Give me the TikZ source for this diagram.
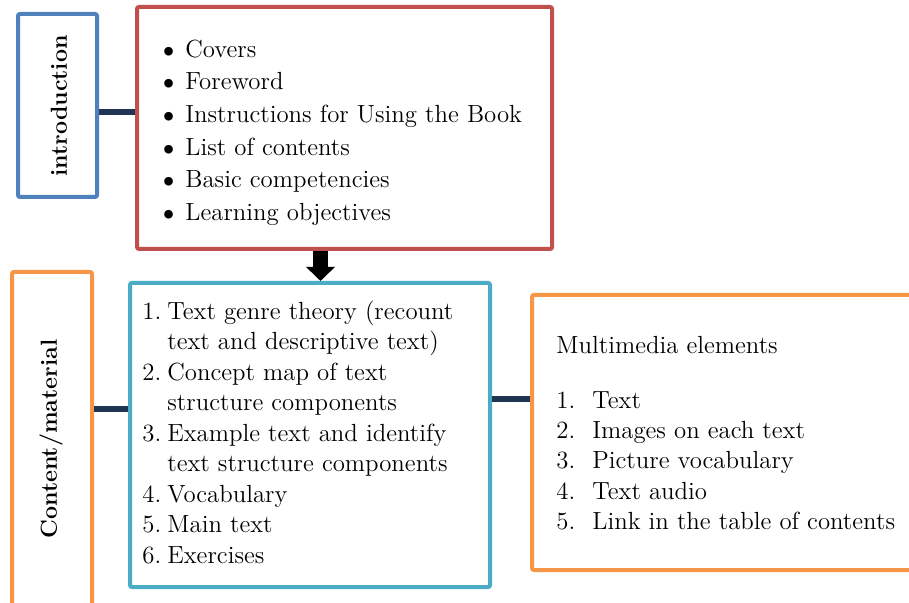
\documentclass[tikz,border=0pt]{standalone}
\usetikzlibrary{arrows.meta,calc}

\definecolor{introblue}{RGB}{79,129,189}
\definecolor{topicred}{RGB}{192,80,77}
\definecolor{partcyan}{RGB}{75,172,198}
\definecolor{mediaorange}{RGB}{247,150,70}
\definecolor{linknavy}{RGB}{31,53,82}

\begin{document}
\begin{tikzpicture}[x=0.5pt,y=-0.5pt,>=Stealth,
    frame/.style={draw,line width=2pt,rounded corners=1pt,inner sep=0pt},
    link/.style={draw=linknavy,line width=3pt},
    txt/.style={anchor=base west,inner sep=0pt,font=\fontsize{12.4}{14}\selectfont},
    side/.style={rotate=90,inner sep=0pt,font=\fontsize{11.6}{14}\selectfont\bfseries}]
    \useasboundingbox (0,0) rectangle (909,603);
    \clip (0,0) rectangle (909,603);
    % boxes
    \node[frame,draw=introblue,minimum width=39.5pt,minimum height=91.5pt] (intro) at (57.5,105.5) {};
    \node[frame,draw=topicred,minimum width=207.5pt,minimum height=121pt] (topics) at (344.5,128) {};
    \node[frame,draw=mediaorange,minimum width=40pt,minimum height=184pt] (content) at (52,456) {};
    \node[frame,draw=partcyan,minimum width=180pt,minimum height=152pt] (parts) at (310,435) {};
    \node[frame,draw=mediaorange,minimum width=214pt,minimum height=137.5pt] (media) at (746,432.5) {};
    \node[side] (introlab) at (59,106) {introduction};
    \node[side] (contentlab) at (51,439) {Content/material};
    % connectors
    \coordinate (introy) at (0,112);
    \coordinate (contenty) at (0,409);
    \coordinate (mediay) at (0,399);
    \coordinate (arrowx) at (320.5,0);
    \draw[link] (intro.east |- introy) -- (topics.west |- introy);
    \draw[link] (content.east |- contenty) -- (parts.west |- contenty);
    \draw[link] (parts.east |- mediay) -- (media.west |- mediay);
    \draw[line width=7.5pt,-{Triangle[width=14pt,length=7pt]}]
        (topics.south -| arrowx) -- (parts.north -| arrowx);
    % bullet list
    \foreach \lab [count=\i from 0] in {Covers,Foreword,Instructions for Using the Book,
        List of contents,Basic competencies,Learning objectives}{
        \node[txt] (topic\i) at (156,57.3+32.6*\i)
            {\makebox[14.5pt][l]{\smash{\raisebox{-1pt}{\scalebox{1.3}{\textbullet}}}}\lab};
    }
    % numbered list
    \foreach \num/\lab [count=\i from 0] in {1./Text genre theory (recount,/text and descriptive text),
        2./Concept map of text,/structure components,3./Example text and identify,
        /text structure components,4./Vocabulary,5./Main text,6./Exercises}{
        \node[txt] (part\i) at (142,319.3+30.5*\i) {\makebox[12.5pt][l]{\num}\lab};
    }
    \node[txt] (mediatitle) at (556,353.3) {Multimedia elements};
    \foreach \lab [count=\i] in {Text,Images on each text,Picture vocabulary,Text audio,
        Link in the table of contents}{
        \node[txt] (medium\i) at (556,377.9+30.3*\i) {\makebox[18pt][l]{\i.}\lab};
    }
\end{tikzpicture}
\end{document}
